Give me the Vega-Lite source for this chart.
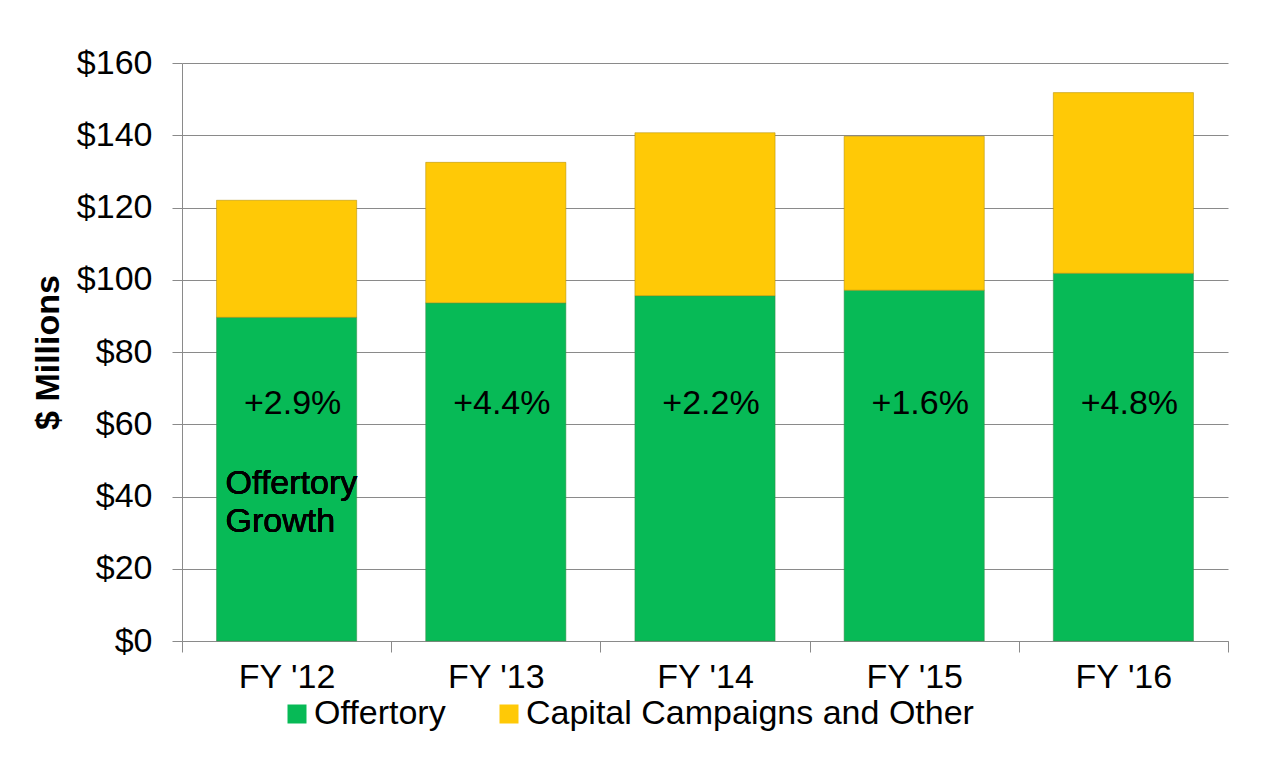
{
  "$schema": "https://vega.github.io/schema/vega-lite/v6.json",
  "width": 1046,
  "height": 578,
  "autosize": {"type": "none"},
  "padding": {"left": 182, "top": 63, "right": 44, "bottom": 116},
  "background": "white",
  "config": {
    "font": "Liberation Sans",
    "view": {"stroke": null},
    "axis": {
      "labelFont": "Liberation Sans",
      "labelFontSize": 34,
      "labelColor": "#000000",
      "domainColor": "#8a8a8a",
      "tickColor": "#8a8a8a",
      "gridColor": "#8a8a8a",
      "domainWidth": 1,
      "tickWidth": 1,
      "gridWidth": 1
    },
    "legend": {
      "labelFont": "Liberation Sans",
      "labelFontSize": 34,
      "labelColor": "#000000"
    }
  },
  "data": {
    "values": [
      {"year": "FY '12", "offertory": 89.6, "total": 122.0, "growth": "+2.9%"},
      {"year": "FY '13", "offertory": 93.6, "total": 132.5, "growth": "+4.4%"},
      {"year": "FY '14", "offertory": 95.6, "total": 140.7, "growth": "+2.2%"},
      {"year": "FY '15", "offertory": 97.1, "total": 139.7, "growth": "+1.6%"},
      {"year": "FY '16", "offertory": 101.8, "total": 151.8, "growth": "+4.8%"}
    ]
  },
  "encoding": {
    "x": {
      "field": "year",
      "type": "nominal",
      "sort": null,
      "scale": {"paddingInner": 0, "paddingOuter": 0},
      "axis": {
        "title": null,
        "labelAngle": 0,
        "tickBand": "extent",
        "tickSize": 11,
        "labelPadding": 8,
        "grid": false
      }
    }
  },
  "layer": [
    {
      "mark": {"type": "bar", "width": {"band": 0.67}, "stroke": "#3a8a4a", "strokeWidth": 1, "strokeOpacity": 0.5},
      "encoding": {
        "y": {
          "field": "offertory",
          "type": "quantitative",
          "scale": {"domain": [0, 160], "nice": false},
          "axis": {
            "title": "$ Millions",
            "titleFontSize": 34,
            "titleFontWeight": "bold",
            "titleColor": "#000000",
            "titlePadding": 11,
            "values": [0, 20, 40, 60, 80, 100, 120, 140, 160],
            "format": "$,.0f",
            "tickSize": 10,
            "labelPadding": 20,
            "grid": true
          }
        },
        "y2": {"datum": 0},
        "color": {
          "datum": "Offertory",
          "type": "nominal",
          "scale": {
            "domain": ["Offertory", "Capital Campaigns and Other"],
            "range": ["#07ba56", "#ffc906"]
          },
          "legend": {
            "title": null,
            "orient": "none",
            "legendX": 98,
            "legendY": 634,
            "direction": "horizontal",
            "symbolType": "square",
            "symbolSize": 361,
            "symbolStrokeWidth": 0,
            "labelOffset": 0,
            "labelLimit": 0,
            "columnPadding": 46,
            "padding": 0
          }
        }
      }
    },
    {
      "mark": {"type": "bar", "width": {"band": 0.67}, "stroke": "#b08a00", "strokeWidth": 1, "strokeOpacity": 0.5},
      "encoding": {
        "y": {"field": "offertory", "type": "quantitative"},
        "y2": {"field": "total"},
        "color": {"datum": "Capital Campaigns and Other", "type": "nominal"}
      }
    },
    {
      "mark": {"type": "text", "fontSize": 34, "color": "#000000", "align": "center", "baseline": "middle", "dx": 6},
      "encoding": {
        "y": {"datum": 65.5, "type": "quantitative"},
        "text": {"field": "growth"}
      }
    },
    {
      "mark": {"type": "text", "fontSize": 34, "color": "#000000", "align": "left", "baseline": "middle", "dx": -61, "lineHeight": 38},
      "encoding": {
        "x": {"datum": "FY '12"},
        "y": {"datum": 43.5, "type": "quantitative"},
        "text": {"value": ["Offertory", "Growth"]}
      }
    }
  ]
}
